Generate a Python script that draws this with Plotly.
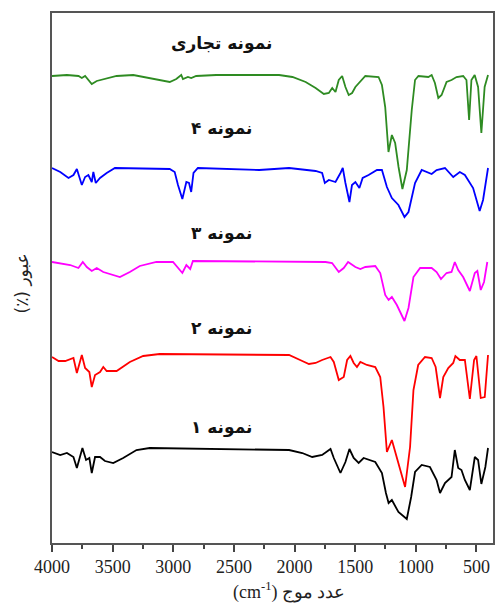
import plotly.graph_objects as go

# Wavenumber (cm^-1) and stacked transmittance (arbitrary offset units)
wn_commercial = [4000, 3877, 3781, 3754, 3727, 3672, 3631, 3467, 3330, 3029, 2975, 2934, 2920, 2879, 2852, 2811,
                 2646, 2127, 2017, 1908, 1826, 1758, 1717, 1689, 1662, 1635, 1607, 1580, 1553, 1525, 1498, 1471,
                 1443, 1416, 1307, 1279, 1252, 1238, 1225, 1197, 1170, 1142, 1110, 1074, 1033, 1006, 978, 896,
                 869, 842, 814, 787, 746, 705, 664, 609, 582, 560, 541, 514, 486, 459, 432, 404]
t_commercial = [467, 468, 467, 465, 467, 459, 462, 467, 468, 461, 464, 468, 464, 466, 465, 467,
                468, 468, 466, 461, 455, 449, 450, 455, 451, 463, 467, 456, 448, 450, 456, 460,
                463, 467, 466, 458, 436, 410, 391, 408, 400, 376, 354, 373, 433, 463, 467, 466,
                468, 460, 445, 448, 461, 463, 466, 467, 463, 423, 463, 468, 456, 410, 456, 468]

wn_s4 = [4000, 3932, 3864, 3823, 3795, 3754, 3727, 3700, 3672, 3659, 3639, 3604, 3549, 3481, 3029,
         2988, 2961, 2925, 2892, 2870, 2852, 2833, 2797, 2291, 2045, 1881, 1826, 1772, 1750, 1717,
         1662, 1621, 1602, 1580, 1547, 1526, 1498, 1465, 1438, 1389, 1320, 1279, 1238, 1197, 1143,
         1093, 1060, 1006, 951, 869, 828, 759, 691, 637, 595, 527, 473, 445, 404]
t_s4 = [375, 371, 365, 368, 374, 358, 366, 368, 361, 371, 360, 365, 370, 375, 374,
        371, 358, 344, 361, 360, 351, 370, 375, 373, 375, 373, 372, 370, 360, 363,
        361, 370, 375, 360, 341, 358, 361, 355, 365, 368, 373, 373, 356, 345, 338,
        326, 331, 360, 373, 369, 373, 375, 366, 371, 368, 355, 332, 343, 375]

wn_s3 = [4000, 3905, 3850, 3782, 3746, 3713, 3672, 3631, 3577, 3440, 3358, 3276, 3139, 3002, 2961,
         2925, 2892, 2860, 2838, 2045, 1744, 1690, 1635, 1594, 1558, 1498, 1457, 1416, 1334, 1293,
         1252, 1224, 1197, 1156, 1093, 1060, 1019, 964, 869, 828, 792, 746, 705, 678, 650,
         609, 554, 513, 492, 464, 437, 410]
t_s3 = [281, 279, 278, 275, 281, 276, 272, 275, 271, 266, 271, 277, 281, 281, 275,
        270, 278, 274, 282, 281, 281, 280, 271, 275, 281, 276, 274, 276, 277, 270,
        248, 243, 246, 238, 222, 235, 266, 275, 275, 271, 264, 270, 271, 281, 273,
        266, 252, 270, 272, 253, 261, 281]

wn_s2 = [4000, 3946, 3891, 3823, 3795, 3754, 3727, 3692, 3672, 3645, 3604, 3577, 3549, 3467, 3358,
         3248, 3112, 2045, 1936, 1881, 1826, 1772, 1703, 1676, 1635, 1594, 1566, 1539, 1512, 1485,
         1457, 1403, 1334, 1293, 1266, 1238, 1197, 1156, 1088, 1047, 1019, 980, 924, 869, 836,
         800, 773, 732, 691, 673, 637, 595, 554, 519, 500, 464, 431, 404]
t_s2 = [186, 182, 182, 185, 170, 188, 175, 171, 156, 168, 171, 176, 172, 172, 181,
        187, 189, 188, 182, 179, 180, 183, 186, 181, 163, 166, 183, 187, 180, 176,
        181, 178, 176, 166, 136, 91, 103, 86, 56, 96, 153, 178, 186, 185, 176,
        145, 166, 175, 180, 187, 183, 183, 144, 183, 187, 145, 146, 188]

wn_s1 = [4000, 3932, 3877, 3823, 3795, 3749, 3719, 3692, 3672, 3645, 3604, 3563, 3495, 3413, 3303,
         3194, 2045, 1936, 1854, 1772, 1703, 1676, 1621, 1580, 1547, 1512, 1471, 1430, 1334, 1279,
         1246, 1224, 1197, 1143, 1074, 1038, 1006, 951, 883, 828, 800, 759, 705, 678, 650,
         623, 595, 554, 513, 486, 459, 426, 404]
t_s1 = [91, 88, 90, 86, 75, 95, 83, 85, 70, 86, 86, 82, 80, 85, 93,
        95, 93, 90, 86, 88, 94, 85, 70, 81, 94, 85, 80, 85, 81, 70,
        50, 40, 43, 31, 24, 46, 71, 78, 76, 63, 50, 60, 66, 93, 75,
        73, 63, 53, 86, 83, 59, 76, 95]

series_names = ["نمونه تجاری", "نمونه ۴", "نمونه ۳", "نمونه ۲", "نمونه ۱"]
series_colors = ["#2e8b22", "#0000ff", "#ff00ff", "#ff0000", "#000000"]
series_wn = [wn_commercial, wn_s4, wn_s3, wn_s2, wn_s1]
series_t = [t_commercial, t_s4, t_s3, t_s2, t_s1]
label_y = [500, 415, 310, 215, 116]

x_tick_vals = [4000, 3500, 3000, 2500, 2000, 1500, 1000, 500]
x_title = "(cm<sup>-1</sup>) عدد موج"
y_title = "(٪) عبور"

fig = go.Figure()
for name, col, xs, ys in zip(series_names, series_colors, series_wn, series_t):
    fig.add_trace(go.Scatter(x=xs, y=ys, mode="lines", name=name,
                             line=dict(color=col, width=1.8),
                             showlegend=False))

for name, ly in zip(series_names, label_y):
    fig.add_annotation(x=2600, y=ly, xref="x", yref="y", text="<b>" + name + "</b>",
                       showarrow=False, font=dict(family="DejaVu Sans", size=17, color="#111"))

fig.add_annotation(x=0.537, y=-0.117, xref="paper", yref="paper", text=x_title, showarrow=False,
                   font=dict(family="Liberation Serif, DejaVu Serif", size=18, color="#222"))
fig.add_annotation(x=-0.095, y=0.49, xref="paper", yref="paper", text=y_title, showarrow=False,
                   textangle=-90, font=dict(family="DejaVu Sans", size=17, color="#222"))

fig.update_layout(
    width=496, height=614,
    margin=dict(l=52, r=1, t=13, b=71),
    paper_bgcolor="white", plot_bgcolor="white",
    xaxis=dict(range=[4000, 363], tickvals=x_tick_vals, ticktext=[str(v) for v in x_tick_vals],
               ticks="outside", ticklen=7, tickwidth=1.5, tickcolor="#444",
               showline=True, linecolor="#555", linewidth=1.5, mirror=True,
               showgrid=False, zeroline=False,
               minor=dict(tickvals=[3750, 3250, 2750, 2250, 1750, 1250, 750], ticks="outside",
                          ticklen=4, tickwidth=1.5, tickcolor="#444"),
               tickfont=dict(family="Liberation Serif", size=18, color="#222")),
    yaxis=dict(range=[0, 530], showticklabels=False, ticks="", showline=True, linecolor="#555",
               linewidth=1.5, mirror=True, showgrid=False, zeroline=False),
)

fig.write_html("out.html")
